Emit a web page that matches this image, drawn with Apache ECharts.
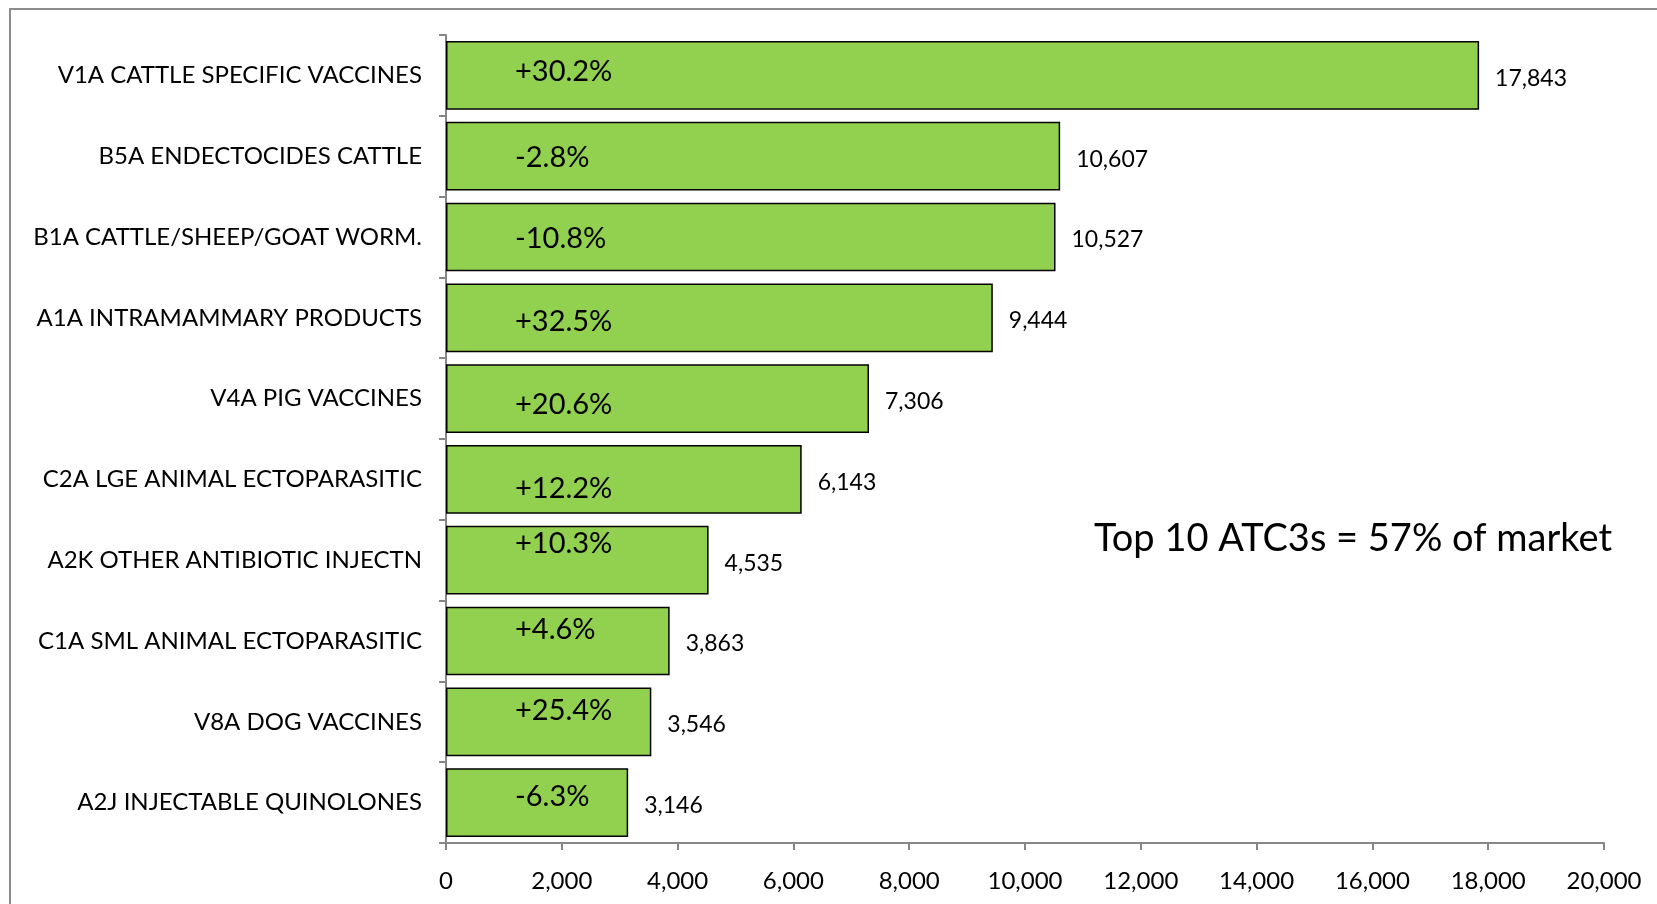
<!DOCTYPE html>
<html>
<head>
<meta charset="utf-8">
<script src="https://cdn.jsdelivr.net/npm/echarts@6/dist/echarts.min.js"></script>
<style>
  html, body { margin: 0; padding: 0; background: #fff; }
  #chart { width: 1657px; height: 904px; }
</style>
</head>
<body>
<div id="chart"></div>
<script>
// Top 10 ATC3 classes, sales value and growth
const categories = [
  'V1A CATTLE SPECIFIC VACCINES',
  'B5A ENDECTOCIDES CATTLE',
  'B1A CATTLE/SHEEP/GOAT WORM.',
  'A1A INTRAMAMMARY PRODUCTS',
  'V4A PIG VACCINES',
  'C2A LGE ANIMAL ECTOPARASITIC',
  'A2K OTHER ANTIBIOTIC INJECTN',
  'C1A SML ANIMAL ECTOPARASITIC',
  'V8A DOG VACCINES',
  'A2J INJECTABLE QUINOLONES'
];
const sales = [17843, 10607, 10527, 9444, 7306, 6143, 4535, 3863, 3546, 3146];
const growth = ['+30.2%', '-2.8%', '-10.8%', '+32.5%', '+20.6%', '+12.2%', '+10.3%', '+4.6%', '+25.4%', '-6.3%'];
const xTicks = { min: 0, max: 20000, interval: 2000 };
const note = 'Top 10 ATC3s = 57% of market';

// vertical nudge of each growth label inside its bar (px)
const growthDy = [-4, 1, 2, 4, 6, 9, -17, -11, -11, -6];

const fmt = v => v.toLocaleString('en-US');
const FONT = 'Lato';

const chart = echarts.init(document.getElementById('chart'), null, { renderer: 'canvas' });

chart.setOption({
  animation: false,
  backgroundColor: '#ffffff',
  grid: { left: 446, right: 53, top: 35, bottom: 61, containLabel: false },
  xAxis: {
    type: 'value',
    min: xTicks.min, max: xTicks.max, interval: xTicks.interval,
    axisLine: { show: true, lineStyle: { color: '#868686', width: 2 } },
    axisTick: { show: true, length: 7, lineStyle: { color: '#868686', width: 2 } },
    splitLine: { show: false },
    axisLabel: {
      margin: 26, color: '#000', fontFamily: FONT, fontSize: 24,
      formatter: v => fmt(v)
    }
  },
  yAxis: {
    type: 'category',
    inverse: true,
    data: categories,
    axisLine: { show: true, lineStyle: { color: '#868686', width: 2 } },
    axisTick: { show: true, length: 7, lineStyle: { color: '#868686', width: 2 } },
    axisLabel: { margin: 24, color: '#000', fontFamily: FONT, fontSize: 24 }
  },
  series: [
    {
      type: 'bar',
      data: sales,
      barCategoryGap: '15%',
      itemStyle: { color: '#92D050', borderColor: '#000', borderWidth: 1.5 },
      label: {
        show: true, position: 'right', distance: 16, offset: [0, 3],
        color: '#000', fontFamily: FONT, fontSize: 23,
        formatter: p => fmt(p.value)
      }
    },
    {
      // growth labels drawn over the same bars
      type: 'bar',
      barGap: '-100%',
      barCategoryGap: '15%',
      data: sales.map((v, i) => ({
        value: v,
        label: { offset: [64, growthDy[i]] }
      })),
      itemStyle: { color: 'transparent' },
      silent: true,
      label: {
        show: true, position: 'insideLeft',
        color: '#000', fontFamily: FONT, fontSize: 29,
        formatter: p => growth[p.dataIndex]
      }
    }
  ],
  graphic: [
    {
      type: 'rect', silent: true,
      shape: { x: 10, y: 9, width: 1700, height: 1000 },
      style: { fill: 'none', stroke: '#8c8c8c', lineWidth: 2 }
    },
    {
      type: 'text', left: 1094, top: 520,
      style: { text: note, fill: '#000', font: '38px Lato' }
    }
  ]
});
</script>
</body>
</html>
